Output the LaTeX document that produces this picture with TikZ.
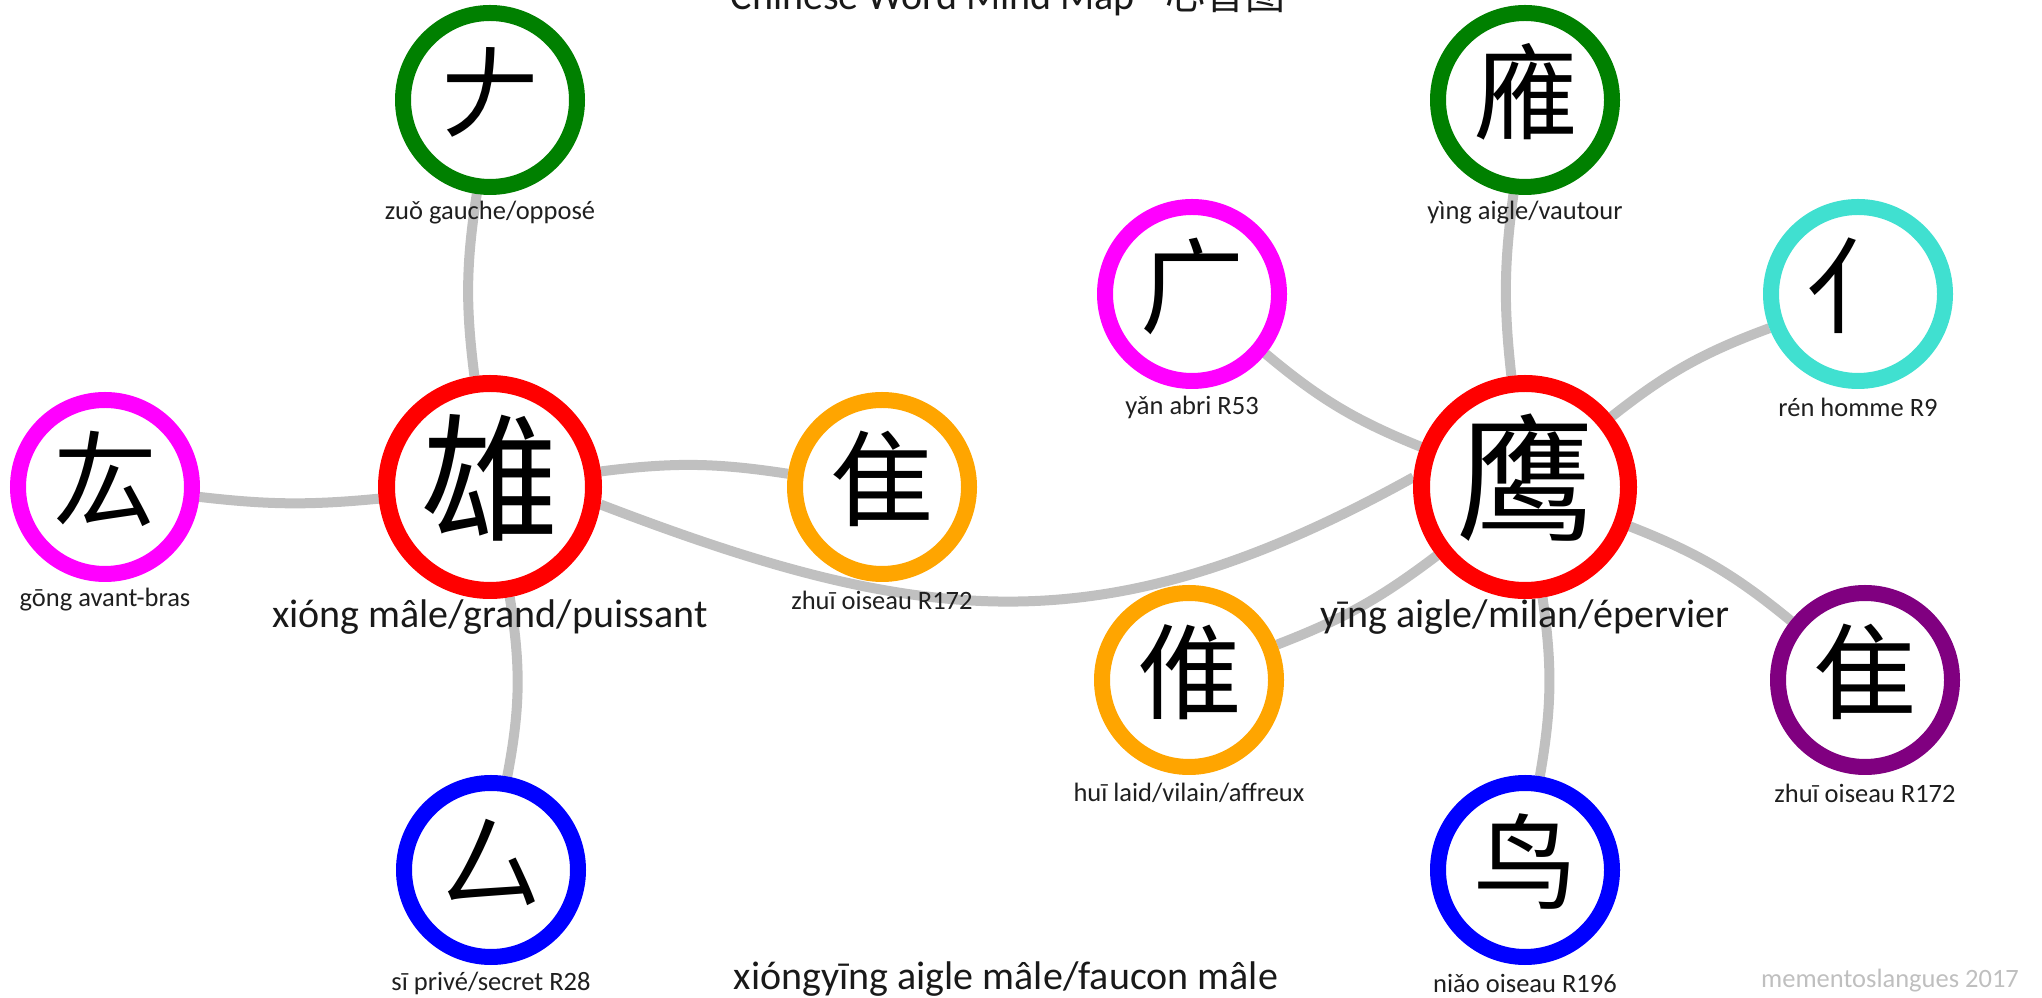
\documentclass[tikz,border=0pt]{standalone}
\usepackage{fontspec}
\setmainfont{Carlito}
\newfontfamily\cjk{Noto Sans CJK SC}
\usetikzlibrary{backgrounds}

\definecolor{hzred}{HTML}{FF0000}
\definecolor{hzgreen}{HTML}{008000}
\definecolor{hzmagenta}{HTML}{FF00FF}
\definecolor{hzorange}{HTML}{FFA500}
\definecolor{hzblue}{HTML}{0000FF}
\definecolor{hzcyan}{HTML}{40E0D0}
\definecolor{hzpurple}{HTML}{800080}
\definecolor{linkgray}{HTML}{C0C0C0}

\begin{document}
\begin{tikzpicture}[x=1pt, y=1pt,
  every hanzi/.style={circle, fill=white, line width=16pt, inner sep=0pt,
    minimum size=174pt, font=\cjk\fontsize{104}{104}\selectfont},
  hanzi/.style={every hanzi, draw=#1},
  big hanzi/.style={every hanzi, draw=hzred, line width=17pt,
    minimum size=207pt, font=\cjk\fontsize{138}{138}\selectfont},
  gloss/.style={font=\fontsize{26.5}{30}\selectfont, text=black!88},
  big gloss/.style={font=\fontsize{40}{46}\selectfont, text=black!90},
  link/.style={draw=linkgray, line width=10pt}]
\useasboundingbox (0,0) rectangle (2042,998);

% main words
\foreach \m/\x/\h/\t in {xiong/490/雄/{xióng mâle/grand/puissant},
                         ying/1525/鹰/{yīng aigle/milan/épervier}}
{
  \node [big hanzi] (\m) at (\x, 511) {\raisebox{9pt}[\height][\depth]{\h}};
  \node [big gloss] (\m-txt) at (\x, 381) {\t};
}

% components
\foreach \m/\x/\y/\c/\h/\t in {
    zuo/490/898/hzgreen/𠂇/{zuǒ gauche/opposé},
    gong/105/511/hzmagenta/厷/{gōng avant-bras},
    zhui/882/511/hzorange/隹/{zhuī oiseau R172},
    si/491/128/hzblue/厶/{sī privé/secret R28},
    yingtop/1525/898/hzgreen/䧹/{yìng aigle/vautour},
    yan/1192/704/hzmagenta/广/{yǎn abri R53},
    ren/1858/704/hzcyan/亻/{rén homme R9},
    hui/1189/318/hzorange/倠/{huī laid/vilain/affreux},
    zhuib/1865/318/hzpurple/隹/{zhuī oiseau R172},
    niao/1525/128/hzblue/鸟/{niǎo oiseau R196}}
{
  \node [hanzi=\c] (\m) at (\x,\y) {\raisebox{8pt}[\height][\depth]{\h}};
  \node [gloss] (\m-txt) at (\x,\y-113) {\t};
}

% links behind the circles
\begin{scope}[on background layer]
\foreach \a/\b/\s in {xiong/zuo/8, xiong/gong/6, xiong/zhui/8, xiong/si/10,
                      ying/yan/9, ying/yingtop/7, ying/ren/9, ying/hui/8,
                      ying/niao/9, ying/zhuib/9}
  \draw [link] (\a) to [bend left=\s] (\b);

% long link between the two words
\draw [link] (xiong.-9) to [out=-21, in=209, looseness=1.1] (ying.175);
\end{scope}

% title and compound
\node [big gloss, anchor=base] (title) at (1008, 988)
  {Chinese Word Mind Map - {\cjk 心智图}};
\node [big gloss] (compound) at (1006, 19) {xióngyīng aigle mâle/faucon mâle};
\node [gloss, text=black!25] (credit) at (1890, 17) {mementoslangues 2017};
\end{tikzpicture}
\end{document}
